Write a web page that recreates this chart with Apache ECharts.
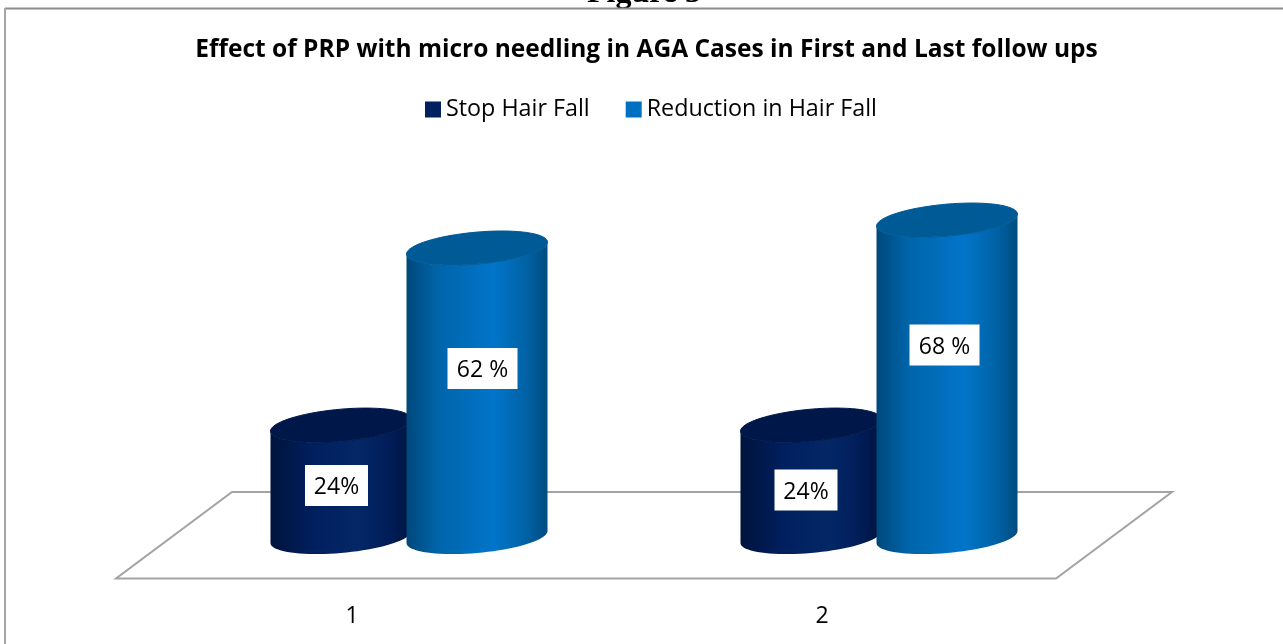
<!DOCTYPE html>
<html>
<head>
<meta charset="utf-8">
<title>Figure 3</title>
<style>
html, body { margin: 0; padding: 0; background: #fff; }
#myChart { width: 1283px; height: 644px; }
</style>
<script src="https://cdn.jsdelivr.net/npm/echarts@6/dist/echarts.min.js"></script>
</head>
<body>
<div id="myChart"></div>
<script>
var categories = ['1', '2'];
var stopHairFall = [24, 24];
var reductionHairFall = [62, 68];
var stopLabels = ['24%', '24%'];
var reductionLabels = ['62 %', '68 %'];

var FONT = '"Open Sans", "Noto Sans", sans-serif';

// sheared ellipse, same look as the 3d cylinders in the original
function ringPoint(cx, cy, a, b, s, t) {
    return [cx + a * Math.cos(t), cy + b * Math.sin(t) - s * Math.cos(t)];
}

function cylinderItem(offset, colors, topColor, labels, nudgeX, nudgeY) {
    return function (params, api) {
        var i = params.dataIndex;
        var band = api.size([1, 0])[0];
        var base = api.coord([i, 0]);
        var tip = api.coord([i, api.value(1)]);
        var cx = base[0] + offset * band;
        var a = band * 0.15;
        var b = 16, s = 6;
        var body = [];
        var top = [];
        var k;
        // bottom half of the base ring, left to right
        for (k = 0; k <= 40; k++) {
            body.push(ringPoint(cx, base[1], a, b, s, Math.PI - k / 40 * Math.PI));
        }
        // back along the near half of the top ring
        for (k = 0; k <= 40; k++) {
            body.push(ringPoint(cx, tip[1], a, b, s, k / 40 * Math.PI));
        }
        for (k = 0; k < 80; k++) {
            top.push(ringPoint(cx, tip[1], a, b, s, k / 80 * Math.PI * 2));
        }
        var bodyFill = new echarts.graphic.LinearGradient(0, 0, 1, 0, colors);
        var labelY = base[1] + (tip[1] - base[1]) * nudgeY[i];
        return {
            type: 'group',
            children: [
                { type: 'polygon', shape: { points: body }, style: { fill: bodyFill } },
                { type: 'polygon', shape: { points: top }, style: { fill: topColor, stroke: topColor, lineWidth: 1 } },
                {
                    type: 'rect',
                    shape: { x: cx + nudgeX[i] - labelBox(labels[i]) / 2, y: labelY - 20.5, width: labelBox(labels[i]), height: 41 },
                    style: { fill: '#fff' }
                },
                {
                    type: 'text',
                    x: cx + nudgeX[i],
                    y: labelY + 2,
                    style: {
                        text: labels[i],
                        fill: '#000',
                        font: '23px ' + FONT,
                        align: 'center',
                        verticalAlign: 'middle'
                    }
                }
            ]
        };
    };
}

function labelBox(text) {
    return text.length > 3 ? 70 : 63;
}

function floorItem(params, api) {
    var c = params.coordSys;
    var d = c.width * 0.0617;
    var y0 = api.coord([0, 0])[1];
    return {
        type: 'polygon',
        shape: {
            points: [
                [c.x + d, y0 - 45],
                [c.x + c.width + d, y0 - 45],
                [c.x + c.width - d, y0 + 41.5],
                [c.x - d, y0 + 41.5]
            ]
        },
        style: { fill: '#fff', stroke: '#a3a3a3', lineWidth: 2 }
    };
}

var myChart = echarts.init(document.getElementById('myChart'));
var option = {
    animation: false,
    backgroundColor: '#fff',
    title: {
        text: 'Effect of PRP with micro needling in AGA Cases in First and Last follow ups',
        left: 641.5,
        textAlign: 'center',
        top: 33,
        textStyle: { fontFamily: FONT, fontSize: 24.5, fontWeight: 'bold', color: '#000' }
    },
    legend: {
        left: 420,
        top: 93,
        icon: 'rect',
        itemWidth: 16,
        itemHeight: 16,
        itemGap: 36,
        data: ['Stop Hair Fall', 'Reduction in Hair Fall'],
        textStyle: { fontFamily: FONT, fontSize: 23.3, color: '#000' }
    },
    graphic: [
        {
            type: 'text', left: 587, top: -22,
            style: { text: 'Figure 3', font: 'bold 32px "Liberation Serif"', fill: '#000' }
        },
        { type: 'line', shape: { x1: 5, y1: 8.5, x2: 1283, y2: 8.5 }, style: { stroke: '#8c8c8c', lineWidth: 2 } },
        { type: 'line', shape: { x1: 5, y1: 8, x2: 5, y2: 644 }, style: { stroke: '#a6a6a6', lineWidth: 2 } }
    ],
    grid: { left: 174, width: 940, top: 71, height: 466 },
    xAxis: {
        type: 'category',
        data: categories,
        axisLine: { show: false },
        axisTick: { show: false },
        axisLabel: {
            margin: 68,
            padding: [0, 114, 0, 0],
            fontFamily: FONT,
            fontSize: 23,
            color: '#000'
        }
    },
    yAxis: { type: 'value', min: 0, max: 100, show: false },
    series: [
        {
            name: 'floor',
            type: 'custom',
            coordinateSystem: 'cartesian2d',
            renderItem: floorItem,
            data: [[0, 0]],
            clip: false,
            silent: true,
            z: 1
        },
        {
            name: 'Stop Hair Fall',
            type: 'custom',
            coordinateSystem: 'cartesian2d',
            itemStyle: { color: '#002060' },
            renderItem: cylinderItem(-0.1447, [
                { offset: 0, color: '#00143c' },
                { offset: 0.3, color: '#001f5e' },
                { offset: 0.62, color: '#042766' },
                { offset: 0.85, color: '#001d58' },
                { offset: 1, color: '#00153f' }
            ], '#00174a', stopLabels, [-4.5, -5], [0.46, 0.42]),
            encode: { x: 0, y: 1 },
            data: stopHairFall.map(function (v, i) { return [i, v]; }),
            clip: false,
            z: 2
        },
        {
            name: 'Reduction in Hair Fall',
            type: 'custom',
            coordinateSystem: 'cartesian2d',
            itemStyle: { color: '#0070c0' },
            renderItem: cylinderItem(0.1447, [
                { offset: 0, color: '#00487a' },
                { offset: 0.22, color: '#0064a9' },
                { offset: 0.62, color: '#0275ca' },
                { offset: 0.85, color: '#0062a5' },
                { offset: 1, color: '#004c80' }
            ], '#005a96', reductionLabels, [5.5, -2.5], [0.583, 0.606]),
            encode: { x: 0, y: 1 },
            data: reductionHairFall.map(function (v, i) { return [i, v]; }),
            clip: false,
            z: 3
        }
    ]
};
myChart.setOption(option);
</script>
</body>
</html>
